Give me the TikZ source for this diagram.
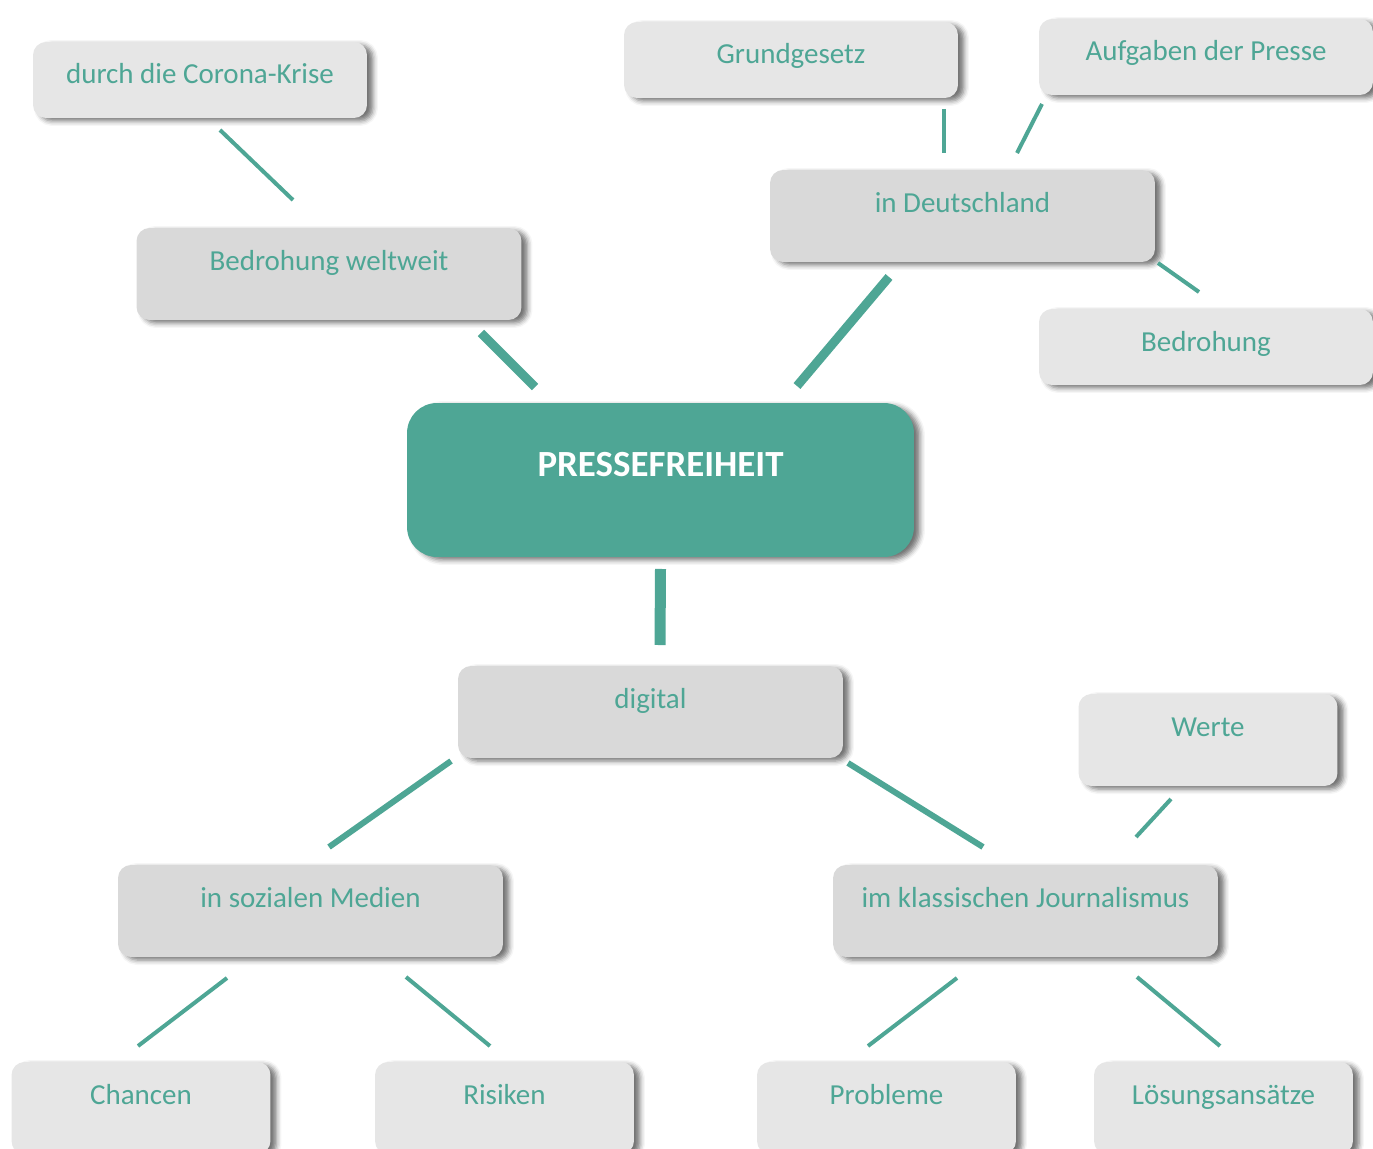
\documentclass[tikz,border=0pt]{standalone}
\usepackage{fontspec}
\setmainfont{Carlito}
\usetikzlibrary{calc,shadows.blur}

\definecolor{pfteal}{HTML}{4EA695}
\definecolor{outergrey}{HTML}{E6E6E6}
\definecolor{midgrey}{HTML}{D9D9D9}

\begin{document}
\begin{tikzpicture}[x=0.02cm, y=-0.02cm,
    box/.style={rectangle, rounded corners=0.26cm, fill=outergrey, text=pfteal,
        font=\fontsize{16.5}{18}\selectfont, inner ysep=0pt, outer sep=0pt,
        text height=0.84cm, text depth=0.68cm, minimum width=6.68cm,
        blur shadow={shadow xshift=0.12cm, shadow yshift=-0.06cm,
            shadow blur radius=0.1cm, shadow opacity=55}},
    midbox/.style={box, fill=midgrey, text depth=1cm, minimum width=7.7cm},
    leaf/.style={box, text depth=1cm, minimum width=5.18cm},
    root/.style={box, fill=pfteal, text=white, rounded corners=0.6cm,
        font=\fontsize{21}{24}\selectfont\bfseries,
        text height=1.46cm, text depth=1.62cm, minimum width=10.14cm},
    link/.style={draw=pfteal, line width=0.08cm},
    midlink/.style={draw=pfteal, line width=0.12cm},
    thicklink/.style={draw=pfteal, line width=0.18cm}]
    \useasboundingbox (0,0) rectangle (1373,1149);

    % Centre
    \node[root] (presse) at (660.5,480) {PRESSEFREIHEIT};

    % Upper left branch
    \node[midbox] (weltweit) at (329,274) {Bedrohung weltweit};
    \node[box] (corona) at (200,80) {durch die Corona-Krise};

    % Upper right branch
    \node[midbox] (deutschland) at (962.5,216) {in Deutschland};
    \node[box] (grundgesetz) at (791,60) {Grundgesetz};
    \node[box] (aufgaben) at (1206,57) {Aufgaben der Presse};
    \node[box] (bedrohung) at (1206,347) {Bedrohung};

    % Lower branch
    \node[midbox] (digital) at (650.5,712) {digital};
    \node[midbox] (sozial) at (310.5,911) {in sozialen Medien};
    \node[midbox] (klassisch) at (1025.5,911) {im klassischen Journalismus};
    \node[leaf] (werte) at (1208,740) {Werte};
    \node[leaf] (chancen) at (141,1108) {Chancen};
    \node[leaf] (risiken) at (504.5,1108) {Risiken};
    \node[leaf] (probleme) at (886.5,1108) {Probleme};
    \node[leaf] (loesung) at (1223.5,1108) {Lösungsansätze};

    % Connectors
    \draw[link] ($(corona.south)+(20,12)$) -- ($(weltweit.north)+(-36,-28)$);
    \draw[thicklink] ($(weltweit.south)+(152,13)$) -- ($(presse.north)+(-125.5,-16)$);
    \draw[thicklink] ($(deutschland.south)+(-73.5,15)$) -- ($(presse.north)+(136.5,-17)$);
    \draw[link] ($(grundgesetz.south)+(153,11)$) -- ($(deutschland.north)+(-18.5,-17)$);
    \draw[link] ($(aufgaben.south)+(-164,9)$) -- ($(deutschland.north)+(54.5,-17)$);
    \draw[link] ($(deutschland.south east)+(3,1)$) -- ($(bedrohung.north)+(-7,-17)$);
    \draw[pfteal, line width=0.22cm] ($(presse.south)+(0,12)$) -- ($(digital.north)+(9.5,-21)$);
    \draw[midlink] ($(digital.south west)+(-7,3)$) -- ($(sozial.north)+(18.5,-18)$);
    \draw[midlink] ($(digital.south east)+(5,5)$) -- ($(klassisch.north)+(-42.5,-18)$);
    \draw[link] ($(werte.south)+(-37,13)$) -- ($(klassisch.north)+(110.5,-28)$);
    \draw[link] ($(sozial.south)+(-83.5,21)$) -- ($(chancen.north)+(-3,-16)$);
    \draw[link] ($(sozial.south)+(95.5,20)$) -- ($(risiken.north)+(-14.5,-16)$);
    \draw[link] ($(klassisch.south)+(-68.5,21)$) -- ($(probleme.north)+(-18.5,-16)$);
    \draw[link] ($(klassisch.south)+(111.5,20)$) -- ($(loesung.north)+(-3.5,-16)$);
\end{tikzpicture}
\end{document}
